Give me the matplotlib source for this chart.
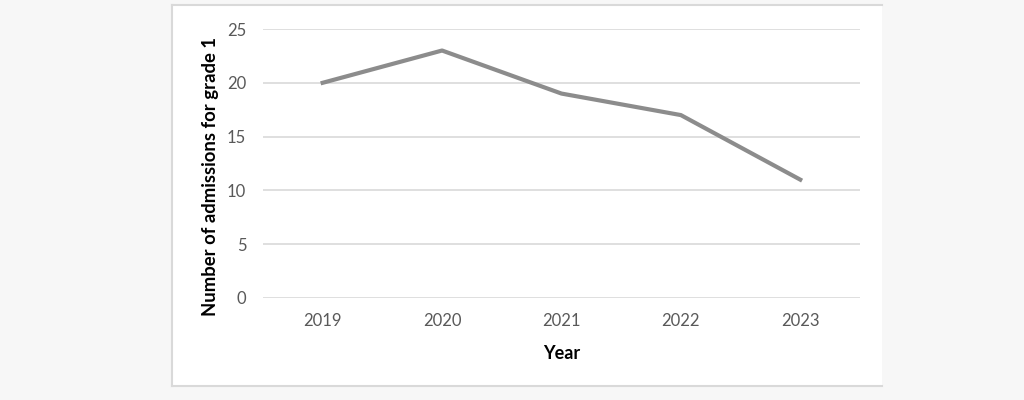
import matplotlib.pyplot as plt
from matplotlib.patches import Rectangle

years = ["2019", "2020", "2021", "2022", "2023"]
admissions = [20, 23, 19, 17, 11]
y_ticks = [0, 5, 10, 15, 20, 25]

plt.rcParams['font.family'] = ['Lato', 'DejaVu Sans']

fig = plt.figure(figsize=(10.24, 4), dpi=100)
fig.patch.set_facecolor('#f7f7f7')

# white chart box with a thin grey frame (no frame on the right)
box = Rectangle((0.168, 0.035), 0.693, 0.953, transform=fig.transFigure,
                facecolor='white', edgecolor='none', zorder=-2)
fig.patches.append(box)
fig.add_artist(plt.Line2D([0.168, 0.168], [0.035, 0.988], color='#d9d9d9', lw=1.5, transform=fig.transFigure, zorder=-1))
fig.add_artist(plt.Line2D([0.168, 0.861], [0.988, 0.988], color='#d9d9d9', lw=1.5, transform=fig.transFigure, zorder=-1))
fig.add_artist(plt.Line2D([0.168, 0.861], [0.035, 0.035], color='#d9d9d9', lw=1.5, transform=fig.transFigure, zorder=-1))

ax = fig.add_axes([0.2568, 0.255, 0.583, 0.6725])
ax.set_zorder(5)
ax.set_facecolor('none')

x = range(len(years))
ax.plot(x, admissions, color='#8c8c8c', linewidth=3, solid_joinstyle='round', zorder=3)

ax.set_xlim(-0.5, len(years) - 0.5)
ax.set_ylim(0, 25)
ax.set_xticks(list(x))
ax.set_xticklabels(years)
ax.set_yticks(y_ticks)
ax.grid(axis='y', color='#d9d9d9', linewidth=1.2)
ax.set_axisbelow(True)
for s in ax.spines.values():
    s.set_visible(False)
ax.tick_params(axis='both', length=0, labelsize=12, labelcolor='#595959')
ax.tick_params(axis='y', pad=12)
ax.tick_params(axis='x', pad=11)

ax.set_xlabel('Year', fontsize=13, fontweight='bold', color='black')
ax.set_ylabel('Number of admissions for grade 1', fontsize=13.3, fontweight='bold', color='black')
ax.xaxis.set_label_coords(0.5, -0.175)
ax.yaxis.set_label_coords(-0.074, 0.45)

fig.savefig('out.png', dpi=100, facecolor=fig.get_facecolor())
